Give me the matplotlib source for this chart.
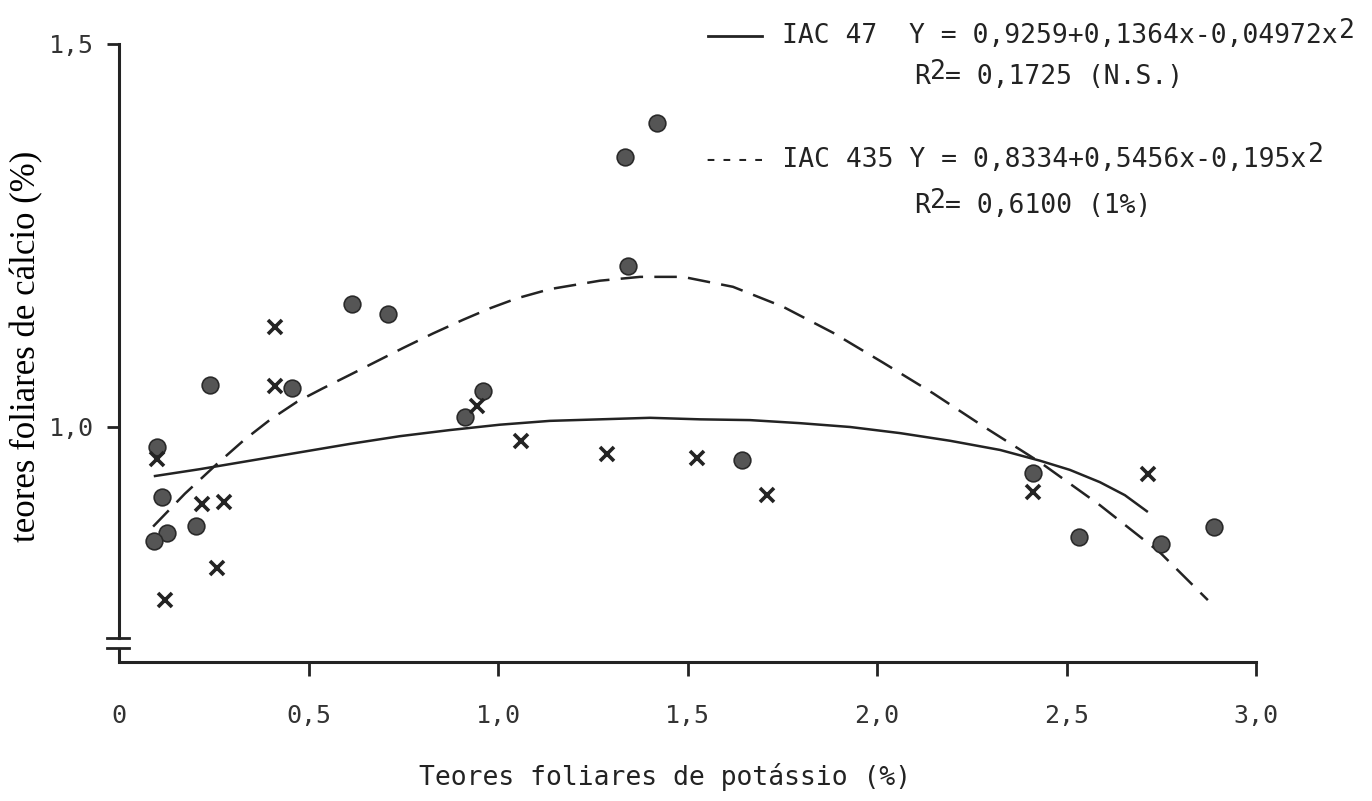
import matplotlib.pyplot as plt
from matplotlib.lines import Line2D

# values
# x markers (IAC 47)
iac47_x = [0.412, 0.412, 0.945, 1.061, 0.100, 0.219, 0.277, 0.259, 0.121,
           1.288, 1.525, 1.710, 2.412, 2.715]
iac47_y = [1.131, 1.054, 1.027, 0.982, 0.958, 0.899, 0.902, 0.816, 0.774,
           0.965, 0.960, 0.911, 0.915, 0.939]

# filled dots (IAC 435)
iac435_x = [0.615, 0.710, 0.240, 0.456, 0.960, 0.913, 0.100, 0.113, 0.203,
            0.127, 0.092, 1.343, 1.335, 1.420, 1.644, 2.412, 2.533, 2.749, 2.890]
iac435_y = [1.161, 1.148, 1.055, 1.051, 1.047, 1.013, 0.974, 0.909, 0.871,
            0.862, 0.851, 1.210, 1.352, 1.397, 0.957, 0.940, 0.856, 0.847, 0.870]

# fitted curves
fit47_x = [0.095, 0.214, 0.346, 0.478, 0.610, 0.741, 0.873, 1.005, 1.137,
           1.269, 1.401, 1.533, 1.665, 1.797, 1.929, 2.061, 2.193, 2.325,
           2.430, 2.509, 2.588, 2.654, 2.712]
fit47_y = [0.936, 0.945, 0.956, 0.967, 0.978, 0.988, 0.996, 1.003, 1.008,
           1.010, 1.012, 1.010, 1.009, 1.005, 1.000, 0.992, 0.982, 0.970,
           0.956, 0.944, 0.928, 0.911, 0.890]

fit435_x = [0.090, 0.174, 0.259, 0.330, 0.400, 0.470, 0.536, 0.609, 0.681,
            0.749, 0.828, 0.908, 0.979, 1.050, 1.137, 1.269, 1.375, 1.488,
            1.620, 1.752, 1.884, 2.016, 2.148, 2.280, 2.430, 2.588, 2.747, 2.873]
fit435_y = [0.870, 0.913, 0.952, 0.983, 1.010, 1.033, 1.050, 1.068, 1.086,
            1.103, 1.122, 1.140, 1.155, 1.168, 1.180, 1.191, 1.196, 1.196,
            1.183, 1.157, 1.123, 1.084, 1.044, 1.001, 0.954, 0.898, 0.836, 0.774]

xticks = [0, 0.5, 1.0, 1.5, 2.0, 2.5, 3.0]
xtick_labels = ['0', '0,5', '1,0', '1,5', '2,0', '2,5', '3,0']
yticks = [1.0, 1.5]
ytick_labels = ['1,0', '1,5']

ink = '#232323'
plt.rcParams['font.family'] = 'DejaVu Sans Mono'

W, H = 1372, 801
fig = plt.figure(figsize=(W / 100, H / 100), dpi=100)
fig.patch.set_facecolor('white')

def fx(p):
    return p / W

def fy(p):
    return 1 - p / H

ax = fig.add_axes([fx(119), fy(662), (1256 - 119) / W, (662 - 44) / H])
ax.set_xlim(0, 3.0)
ax.set_ylim(0.6932, 1.5)

# axes frame with a break on the y axis
for s in ['top', 'right']:
    ax.spines[s].set_visible(False)
ax.spines['bottom'].set_linewidth(2.2)
ax.spines['bottom'].set_color(ink)
ax.spines['left'].set_linewidth(2.2)
ax.spines['left'].set_color(ink)
ax.spines['left'].set_bounds(0.7245, 1.5)
ax.plot([0, 0], [0.6932, 0.7115], color=ink, lw=2.2, clip_on=False, solid_capstyle='butt')
for yb in [0.7245, 0.7115]:
    ax.plot([-0.032, 0.026], [yb, yb], color=ink, lw=2.0, clip_on=False)

ax.set_xticks(xticks)
ax.set_xticklabels(xtick_labels)
ax.set_yticks(yticks)
ax.set_yticklabels(ytick_labels)
ax.tick_params(axis='x', direction='out', length=10, width=2, colors=ink,
               labelsize=18, pad=20)
ax.tick_params(axis='y', direction='out', length=9, width=2, colors=ink,
               labelsize=18, pad=9)
ax.xaxis.get_major_ticks()[0].tick1line.set_visible(False)
for lbl in ax.get_xticklabels() + ax.get_yticklabels():
    lbl.set_color('#333333')

# curves and points
ax.plot(fit47_x, fit47_y, color=ink, lw=1.8, solid_joinstyle='round')
ax.plot(fit435_x, fit435_y, color=ink, lw=1.8, dashes=(9, 4.5))
ax.plot(iac435_x, iac435_y, 'o', ms=12, mfc='#555555', mec='#2a2a2a', mew=1.2,
        ls='none', clip_on=False)
ax.plot(iac47_x, iac47_y, 'x', ms=10.5, mew=2.6, color=ink, ls='none', clip_on=False)

# legend written as text, top right
fs = 19
fig.add_artist(Line2D([fx(708), fx(762)], [fy(36), fy(36)], color=ink, lw=2))
t1 = fig.text(fx(782), fy(36), 'IAC 47  Y = 0,9259+0,1364x-0,04972x', fontsize=fs,
              va='center', color=ink)
ax.annotate('2', xy=(1, 0.68), xycoords=t1, xytext=(1, 0), textcoords='offset points',
            ha='left', va='center', fontsize=fs, color=ink)

r1 = fig.text(fx(914), fy(77), 'R', fontsize=fs, va='center', color=ink)
ax.annotate('2', xy=(1, 0.7), xycoords=r1, xytext=(0, 0), textcoords='offset points',
            ha='left', va='center', fontsize=fs, color=ink)
ax.annotate('= 0,1725 (N.S.)', xy=(0.7, 0.5), xycoords=r1, xytext=(14, 0),
            textcoords='offset points', ha='left', va='center', fontsize=fs, color=ink)

t3 = fig.text(fx(703), fy(160), '---- IAC 435 Y = 0,8334+0,5456x-0,195x', fontsize=fs,
              va='center', color=ink)
ax.annotate('2', xy=(1, 0.68), xycoords=t3, xytext=(1, 0), textcoords='offset points',
            ha='left', va='center', fontsize=fs, color=ink)

r2 = fig.text(fx(914), fy(206), 'R', fontsize=fs, va='center', color=ink)
ax.annotate('2', xy=(1, 0.7), xycoords=r2, xytext=(0, 0), textcoords='offset points',
            ha='left', va='center', fontsize=fs, color=ink)
ax.annotate('= 0,6100 (1%)', xy=(0.7, 0.5), xycoords=r2, xytext=(14, 0),
            textcoords='offset points', ha='left', va='center', fontsize=fs, color=ink)

# axis titles
fig.text(fx(665), fy(777), 'Teores foliares de potássio (%)', fontsize=fs,
         ha='center', va='center', color=ink)
fig.text(fx(27), fy(346), 'teores foliares de cálcio (%)', fontsize=25,
         family='Liberation Serif', rotation=90, ha='center', va='center', color='black')

fig.savefig('out.png', dpi=100, facecolor='white')
